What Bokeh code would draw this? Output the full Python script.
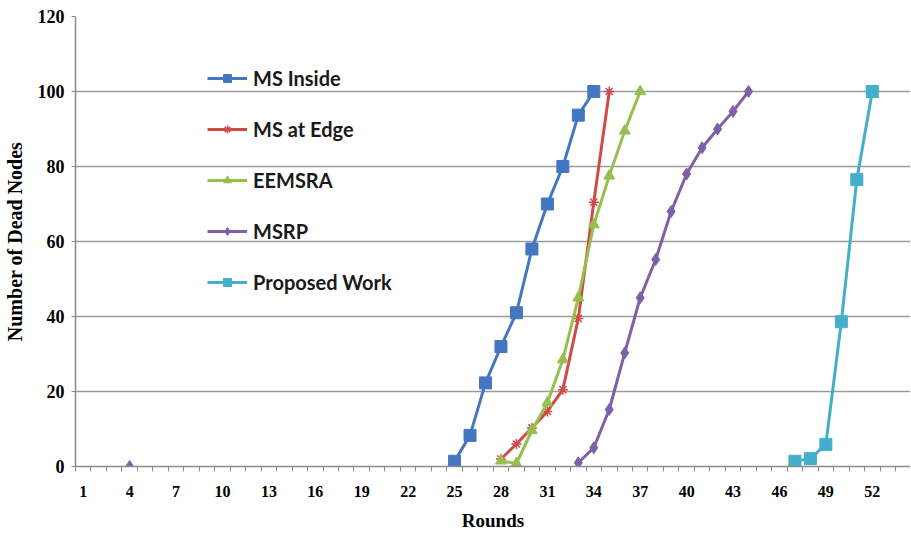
import math
from bokeh.plotting import figure
from bokeh.models import Range1d, FixedTicker, Legend, LegendItem
from bokeh.embed import file_html
from bokeh.resources import INLINE

# ---- data ----
x_tick_labels = list(range(1, 55, 3))          # 1, 4, ..., 52
n_rounds = 54
y_ticks = [0, 20, 40, 60, 80, 100, 120]

ms_inside_rounds = [25, 26, 27, 28, 29, 30, 31, 32, 33, 34]
ms_inside_values = [1.4, 8.3, 22.3, 32, 41, 58, 70, 80, 93.7, 100]

ms_edge_rounds = [28, 29, 30, 31, 32, 33, 34, 35]
ms_edge_values = [2, 6, 10.3, 14.7, 20.5, 39.5, 70.5, 100]

eemsra_rounds = [28, 29, 30, 31, 32, 33, 34, 35, 36, 37]
eemsra_values = [1.5, 0.8, 9.6, 17, 28.5, 45, 64.5, 77.5, 89.5, 100]

msrp_rounds = [4, 33, 34, 35, 36, 37, 38, 39, 40, 41, 42, 43, 44]
msrp_values = [0, 1, 5, 15.2, 30.3, 45, 55.2, 68, 78, 85, 90, 94.7, 100]

proposed_rounds = [47, 48, 49, 50, 51, 52]
proposed_values = [1.4, 2.1, 5.9, 38.6, 76.5, 100]

series = [
    ("MS Inside", ms_inside_rounds, ms_inside_values, "#4477C2", "square", 12),
    ("MS at Edge", ms_edge_rounds, ms_edge_values, "#D04A47", "asterisk", 10),
    ("EEMSRA", eemsra_rounds, eemsra_values, "#97BE4E", "triangle", 11),
    ("MSRP", msrp_rounds, msrp_values, "#7E60A8", "diamond", 12),
    ("Proposed Work", proposed_rounds, proposed_values, "#45AECB", "square", 12),
]

p = figure(width=910, height=536, output_backend="svg", toolbar_location=None,
           x_range=Range1d(0.5, 54.47), y_range=Range1d(0, 120),
           min_border_left=73, min_border_right=0, min_border_top=16, min_border_bottom=70)
p.outline_line_color = None
p.background_fill_color = "white"
p.border_fill_color = "white"

# axes
serif = "Liberation Serif"
p.xaxis.ticker = FixedTicker(ticks=x_tick_labels,
                             minor_ticks=[i + 0.5 for i in range(0, n_rounds)])
p.xaxis.major_tick_line_color = None
p.xaxis.major_tick_out = 0
p.xaxis.major_tick_in = 0
p.xaxis.minor_tick_line_color = "#8a8a8a"
p.xaxis.minor_tick_out = 5
p.xaxis.minor_tick_in = 0
p.xaxis.axis_line_color = "#8a8a8a"
p.xaxis.axis_line_width = 1.5
p.xaxis.major_label_standoff = 14
p.xaxis.major_label_text_font = serif
p.xaxis.major_label_text_font_style = "bold"
p.xaxis.major_label_text_font_size = "16px"
p.xaxis.major_label_text_color = "black"
p.xaxis.axis_label = "Rounds"
p.xaxis.axis_label_text_font = serif
p.xaxis.axis_label_text_font_style = "bold"
p.xaxis.axis_label_text_font_size = "19px"
p.xaxis.axis_label_text_color = "black"
p.xaxis.axis_label_standoff = 10

p.yaxis.ticker = FixedTicker(ticks=y_ticks)
p.yaxis.minor_tick_line_color = None
p.yaxis.major_tick_line_color = "#8a8a8a"
p.yaxis.major_tick_out = 4
p.yaxis.major_tick_in = 0
p.yaxis.axis_line_color = "#8a8a8a"
p.yaxis.axis_line_width = 1.5
p.yaxis.major_label_standoff = 7
p.yaxis.major_label_text_font = serif
p.yaxis.major_label_text_font_style = "bold"
p.yaxis.major_label_text_font_size = "18px"
p.yaxis.major_label_text_color = "black"
p.yaxis.axis_label = "Number of Dead Nodes"
p.yaxis.axis_label_text_font = serif
p.yaxis.axis_label_text_font_style = "bold"
p.yaxis.axis_label_text_font_size = "20px"
p.yaxis.axis_label_text_color = "black"
p.yaxis.axis_label_standoff = 9

p.xgrid.grid_line_color = None
p.ygrid.grid_line_color = "#9a9a9a"
p.ygrid.grid_line_width = 1.5

items = []
for name, xs, ys, color, marker, size in series:
    # split into runs of consecutive rounds (Excel leaves gaps for empty cells)
    lx, ly = [], []
    prev = None
    for x, y in zip(xs, ys):
        if prev is not None and x - prev > 1:
            lx.append(float("nan"))
            ly.append(float("nan"))
        lx.append(x)
        ly.append(y)
        prev = x
    r_line = p.line(lx, ly, line_color=color, line_width=3)
    if marker == "asterisk":
        r_mark = p.scatter(xs, ys, marker=marker, size=size, line_color=color, line_width=1.5)
    else:
        r_mark = p.scatter(xs, ys, marker=marker, size=size, fill_color=color, line_color=color)
    items.append(LegendItem(label=name, renderers=[r_line, r_mark]))

legend = Legend(items=items, location=(132, 172))
legend.background_fill_alpha = 0
legend.border_line_color = None
legend.padding = 0
legend.margin = 0
legend.glyph_width = 40
legend.glyph_height = 20
legend.label_height = 20
legend.spacing = 27
legend.label_standoff = 6
legend.label_text_font = "Lato"
legend.label_text_font_style = "bold"
legend.label_text_font_size = "20px"
legend.label_text_color = "#1a1a1a"
p.add_layout(legend, "center")

open("out.html", "w").write(file_html(p, INLINE))
